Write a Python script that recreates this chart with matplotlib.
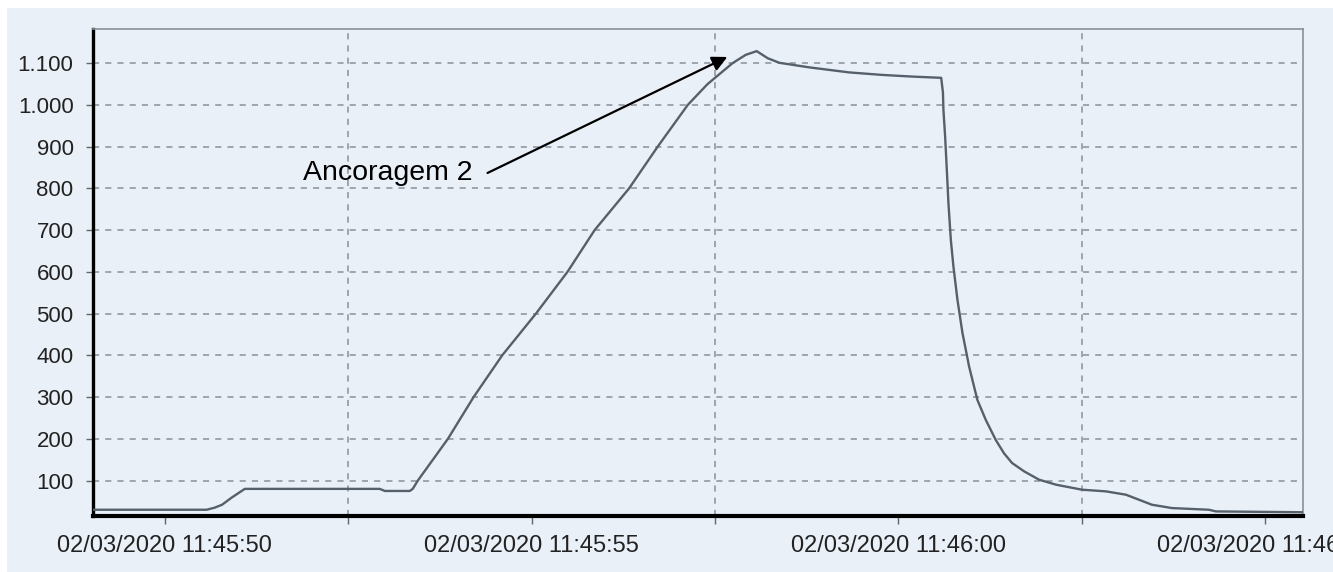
import matplotlib
matplotlib.use('Agg')
import matplotlib.pyplot as plt
import matplotlib.dates as mdates
from matplotlib.ticker import FuncFormatter, FixedLocator
from matplotlib.patches import Rectangle
import pandas as pd

plt.rcParams['font.family'] = ['Liberation Sans', 'DejaVu Sans']

# seconds after 02/03/2020 11:45:50 and the load
seconds = [-0.98, 0.57, 0.68, 0.78, 0.91, 1.09, 2.93, 3.00, 3.34, 3.38,
           3.45, 3.86, 4.21, 4.60, 5.06, 5.49, 5.86, 6.33, 6.72, 7.13,
           7.40, 7.74, 7.92, 8.07, 8.22, 8.38, 8.79, 9.33, 9.78, 10.19,
           10.586, 10.61, 10.617, 10.64, 10.663, 10.685, 10.718, 10.753, 10.808, 10.876,
           10.967, 11.08, 11.195, 11.331, 11.444, 11.553, 11.717, 11.921, 12.153, 12.507,
           12.834, 13.106, 13.283, 13.46, 13.733, 14.237, 14.332, 15.504]
load = [30, 30, 35, 42, 59, 80, 80, 75, 75, 80,
        100, 200, 300, 400, 500, 600, 700, 800, 900, 1000,
        1050, 1100, 1120, 1129, 1112, 1101, 1090, 1078, 1072, 1068,
        1065, 1030, 988, 924, 844, 765, 676, 613, 533, 454,
        373, 293, 245, 197, 165, 142, 122, 102, 90, 78,
        74, 66, 54, 42, 34, 30, 26, 24]

base = pd.Timestamp('2020-03-02 11:45:50')
times = base + pd.to_timedelta(seconds, unit='s')

y_ticks = [100, 200, 300, 400, 500, 600, 700, 800, 900, 1000, 1100]
grid_seconds = [2.5, 7.5, 12.5]
label_text = 'Ancoragem 2'

bg = '#eaf0f8'
fig = plt.figure(figsize=(13.33, 5.72), dpi=100, facecolor=bg)
# thin white frame at top/left like the screenshot
fig.patches.append(Rectangle((0, 1 - 8 / 572), 1, 8 / 572, transform=fig.transFigure,
                             facecolor='white', edgecolor='none', zorder=0))
fig.patches.append(Rectangle((0, 0), 7 / 1333, 1, transform=fig.transFigure,
                             facecolor='white', edgecolor='none', zorder=0))

ax = fig.add_axes([93 / 1333, 1 - 516 / 572, 1210 / 1333, 487 / 572])
ax.set_facecolor(bg)

ax.plot(times, load, color='#56606b', lw=1.7, zorder=3)

ax.set_xlim(base + pd.Timedelta(seconds=-0.98), base + pd.Timedelta(seconds=15.52))
ax.set_ylim(15, 1182)

ax.xaxis.set_major_locator(mdates.SecondLocator(bysecond=range(0, 60, 5)))
ax.xaxis.set_major_formatter(mdates.DateFormatter('%d/%m/%Y %H:%M:%S'))
minor = [mdates.date2num(base + pd.Timedelta(seconds=s)) for s in grid_seconds]
ax.xaxis.set_minor_locator(FixedLocator(minor))

ax.set_yticks(y_ticks)
ax.yaxis.set_major_formatter(FuncFormatter(lambda v, p: f'{int(v):,}'.replace(',', '.')))

ax.grid(False)
ax.grid(True, which='minor', axis='x', color='#8a9098', ls=(0, (4, 4)), lw=1.1)
ax.grid(True, which='major', axis='y', color='#8a9098', ls=(0, (4, 4)), lw=1.1)
ax.set_axisbelow(True)

ax.tick_params(axis='x', which='both', direction='out', length=6, width=1,
               color='#666666', labelsize=17, labelcolor='#222222', pad=8)
ax.tick_params(axis='y', which='major', direction='out', length=5, width=1,
               color='#666666', labelsize=16, labelcolor='#222222', pad=9)

for side in ['top', 'right']:
    ax.spines[side].set_color('#8a9098')
    ax.spines[side].set_linewidth(1.2)
ax.spines['left'].set_color('black')
ax.spines['left'].set_linewidth(2.4)
ax.spines['bottom'].set_color('black')
ax.spines['bottom'].set_linewidth(3)

# annotation arrow
tip = (base + pd.Timedelta(seconds=7.67), 1115)
start = (base + pd.Timedelta(seconds=4.40), 837)
ax.annotate('', xy=tip, xytext=start,
            arrowprops=dict(arrowstyle='-|>,head_length=0.9,head_width=0.45',
                            color='black', lw=1.6, shrinkA=0, shrinkB=0))
ax.text(base + pd.Timedelta(seconds=4.20), 837, label_text, ha='right', va='center',
        fontsize=20.5, color='black')

fig.savefig('out.png', dpi=100, facecolor=bg)
